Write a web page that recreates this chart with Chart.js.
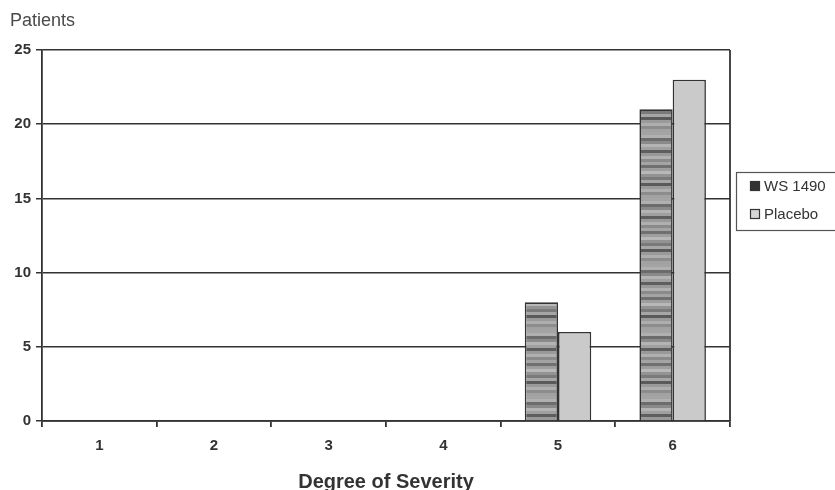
<!DOCTYPE html>
<html>
<head>
<meta charset="utf-8">
<script src="https://cdn.jsdelivr.net/npm/chart.js@4"></script>
<style>
  html, body { margin: 0; padding: 0; background: #fff; }
  #wrap { width: 835px; height: 490px; position: relative; }
</style>
</head>
<body>
<div id="wrap"><canvas id="myChart" width="835" height="490"></canvas></div>
<script>
var categories = ['1', '2', '3', '4', '5', '6'];
var ws1490 = [0, 0, 0, 0, 8, 21];
var placebo = [0, 0, 0, 0, 6, 23];
var yTicks = [0, 5, 10, 15, 20, 25];

var fontFamily = '"Liberation Sans", Arial, sans-serif';
var lineColor = '#333333';

// streaky gray texture for the WS 1490 bars
function stripePattern() {
    var c = document.createElement('canvas');
    c.width = 6;
    c.height = 66;
    var g = c.getContext('2d');
    var rows = ['#a4a4a4', '#b0b0b0', '#6c6c6c', '#8a8a8a', '#b4b4b4', '#a0a0a0', '#5e5e5e', '#999999',
                '#b0b0b0', '#8a8a8a', '#a4a4a4', '#707070', '#9e9e9e', '#b8b8b8', '#939393', '#7a7a7a',
                '#a6a6a6', '#5a5a5a', '#9a9a9a', '#aeaeae', '#8c8c8c', '#a2a2a2'];
    for (var i = 0; i < rows.length; i++) {
        g.fillStyle = rows[i];
        g.fillRect(0, i * 3, 6, 3);
    }
    return g.createPattern(c, 'repeat');
}

var framePlugin = {
    id: 'frame',
    afterDraw: function(chart) {
        var ctx = chart.ctx;
        var a = chart.chartArea;
        ctx.save();
        ctx.strokeStyle = lineColor;
        ctx.lineWidth = 1.8;
        ctx.beginPath();
        ctx.moveTo(a.right, a.top);
        ctx.lineTo(a.right, a.bottom);
        ctx.stroke();

        // axis caption above the y axis
        ctx.fillStyle = '#4a4a4a';
        ctx.font = '18px ' + fontFamily;
        ctx.textBaseline = 'alphabetic';
        ctx.textAlign = 'left';
        ctx.fillText('Patients', 10, 26);

        // legend box
        ctx.lineWidth = 1.2;
        ctx.strokeStyle = '#555';
        ctx.strokeRect(736.5, 172.5, 110, 58);
        var ds = chart.data.datasets;
        var ys = [186, 214];
        ctx.font = '15px ' + fontFamily;
        ctx.textBaseline = 'middle';
        for (var i = 0; i < ds.length; i++) {
            ctx.fillStyle = ds[i].legendFill;
            ctx.fillRect(750, ys[i] - 5, 10, 10);
            ctx.strokeStyle = '#333';
            ctx.lineWidth = 1.2;
            ctx.strokeRect(750.5, ys[i] - 4.5, 9, 9);
            ctx.fillStyle = '#333';
            ctx.fillText(ds[i].label, 764, ys[i] + 1);
        }
        ctx.restore();
    }
};

var ctx = document.getElementById('myChart').getContext('2d');
var myChart = new Chart(ctx, {
    type: 'bar',
    data: {
        labels: categories,
        datasets: [{
            label: 'WS 1490',
            data: ws1490,
            backgroundColor: stripePattern(),
            legendFill: '#333333',
            borderColor: '#333',
            borderWidth: 1.6,
            borderSkipped: 'bottom'
        }, {
            label: 'Placebo',
            data: placebo,
            backgroundColor: '#cacaca',
            legendFill: '#d6d6d6',
            borderColor: '#333',
            borderWidth: 1.6,
            borderSkipped: 'bottom'
        }]
    },
    options: {
        responsive: false,
        animation: false,
        categoryPercentage: 0.58,
        barPercentage: 1.0,
        layout: { padding: { top: 50, right: 105, left: 0, bottom: 0 } },
        plugins: {
            legend: { display: false },
            tooltip: { enabled: false }
        },
        scales: {
            x: {
                offset: true,
                grid: {
                    offset: true,
                    drawOnChartArea: false,
                    drawTicks: true,
                    tickLength: 6,
                    color: lineColor,
                    lineWidth: 1.8
                },
                border: { display: true, color: lineColor, width: 1.8 },
                ticks: {
                    color: '#333',
                    padding: 10,
                    font: { family: fontFamily, size: 15, weight: 'bold' }
                },
                title: {
                    display: true,
                    text: 'Degree of Severity',
                    color: '#333',
                    padding: { top: 4, bottom: -4 },
                    font: { family: fontFamily, size: 20, weight: 'bold' }
                },
                afterFit: function(scale) { scale.height = 69; }
            },
            y: {
                min: 0,
                max: 25,
                afterBuildTicks: function(scale) {
                    scale.ticks = yTicks.map(function(v) { return { value: v }; });
                },
                grid: {
                    color: lineColor,
                    lineWidth: 1.5,
                    tickLength: 6
                },
                border: { display: true, color: lineColor, width: 1.8 },
                ticks: {
                    color: '#333',
                    padding: 5,
                    font: { family: fontFamily, size: 15, weight: 'bold' }
                },
                afterFit: function(scale) { scale.width = 42; }
            }
        }
    },
    plugins: [framePlugin]
});
</script>
</body>
</html>
